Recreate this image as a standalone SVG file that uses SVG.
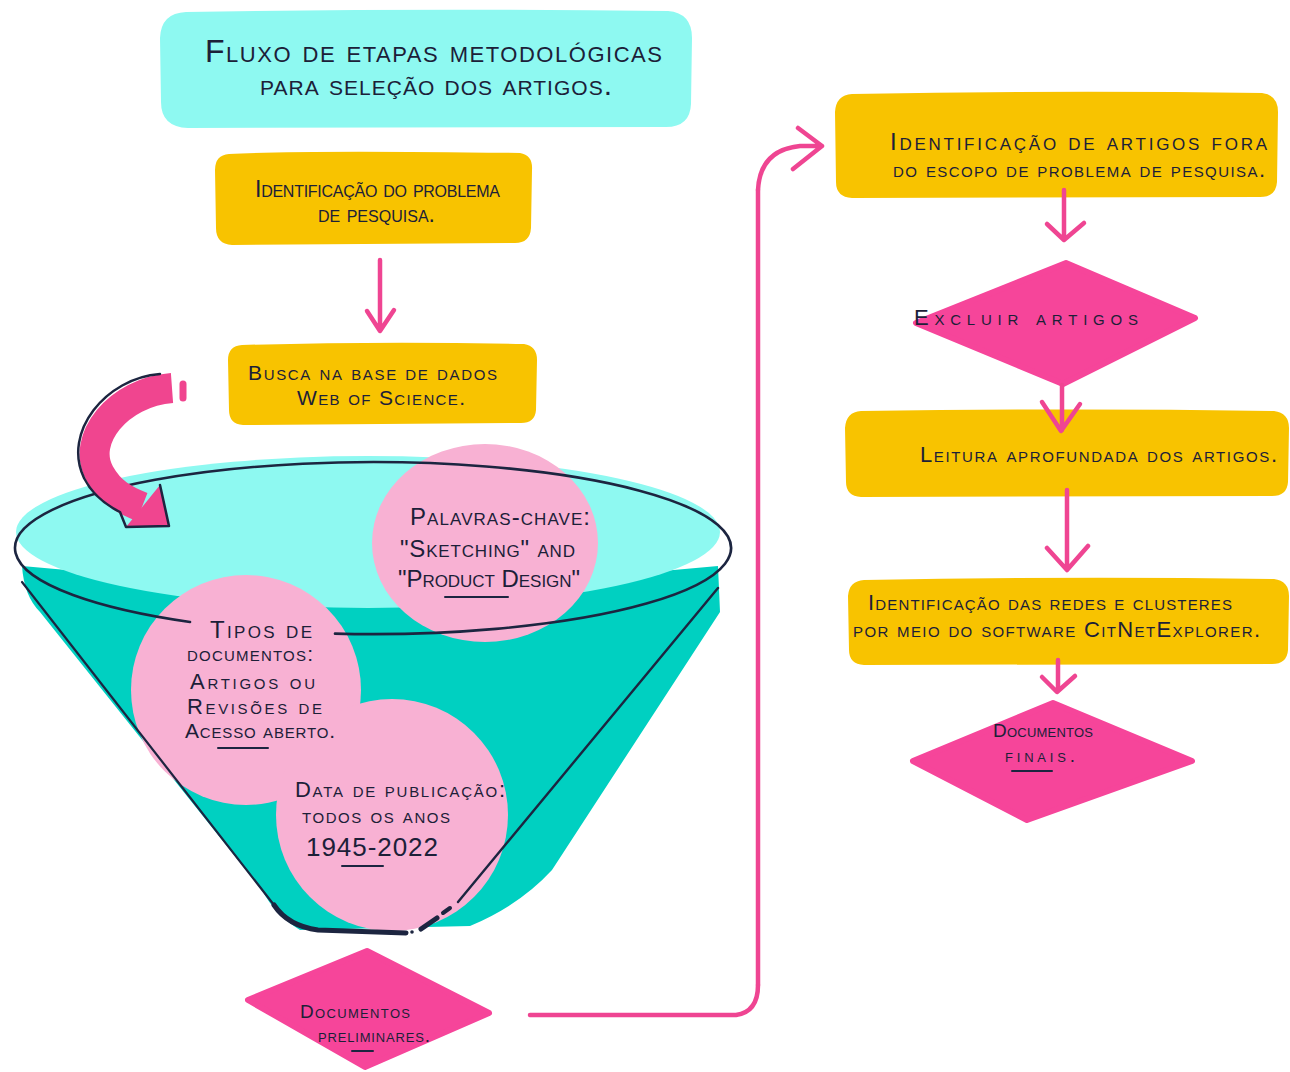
<svg xmlns="http://www.w3.org/2000/svg" width="1290" height="1072" viewBox="0 0 1290 1072">
  <defs>
    <style>
      .t { font-family: "Liberation Sans", Arial, sans-serif; font-variant: small-caps; fill: #1c2038; }
      .ybox { fill: #f8c300; }
      .dia { fill: #f6459a; stroke: #f6459a; stroke-width: 6; stroke-linejoin: round; }
      .arr { fill: none; stroke: #ef4592; stroke-width: 4.5; stroke-linecap: round; stroke-linejoin: round; }
      .ink { fill: none; stroke: #1c2540; stroke-linecap: round; stroke-linejoin: round; }
      .circ { fill: #f8b1d3; }
    </style>
  </defs>

  <rect width="1290" height="1072" fill="#ffffff"/>

  <!-- title -->
  <g id="title">
    <path d="M186,12 Q420,8 668,11 Q692,13 692,38 L691,104 Q690,127 666,127 L188,128 Q161,127 161,102 L160,38 Q161,13 186,12 Z" fill="#8ef9f1"/>
    <text class="t" x="205" y="62" font-size="32" textLength="457">Fluxo de etapas metodológicas</text>
    <text class="t" x="260" y="95" font-size="30" textLength="352">para seleção dos artigos.</text>
  </g>

  <!-- funnel body -->
  <g id="funnel">
    <path d="M22,566 Q370,600 718,566 L720,612 L552,870 Q520,905 470,926 L300,930 Q275,915 262,890 L40,612 Q24,596 22,566 Z" fill="#00d0c1"/>
    <ellipse cx="368" cy="532" rx="352" ry="76" fill="#8ef9f1"/>
  </g>

  <!-- filter circles -->
  <g id="filtro-palavras">
    <ellipse class="circ" cx="485" cy="543" rx="113" ry="99"/>
  </g>
  <g id="filtro-tipos">
    <circle class="circ" cx="246" cy="690" r="115"/>
  </g>
  <g id="filtro-data">
    <circle class="circ" cx="392" cy="815" r="116"/>
  </g>

  <!-- funnel ink outline -->
  <g id="funnel-ink">
    <path class="ink" stroke-width="2.6" d="M190,622 A358,86 0 1,1 335,633.6"/>
    <path class="ink" stroke-width="2.2" d="M22,582 L274,905"/>
    <path class="ink" stroke-width="5" d="M274,905 Q288,926 318,930 L406,933"/>
    <path class="ink" stroke-width="2.4" d="M718,588 L458,902"/>
    <path class="ink" stroke-width="4" d="M450,908 L443,913"/>
    <path class="ink" stroke-width="5" d="M437,918 L421,929"/>
    <circle cx="412" cy="932" r="1.8" fill="#1c2540"/>
  </g>

  <!-- circle texts -->
  <g id="filtro-palavras-texto">
    <text class="t" x="410" y="525" font-size="24" textLength="180">Palavras-chave:</text>
    <text class="t" x="400" y="557" font-size="24" textLength="175">"Sketching" and</text>
    <text class="t" x="398" y="587" font-size="24" textLength="182">"Product Design"</text>
    <path class="ink" stroke-width="2" d="M445,597 L508,597"/>
  </g>
  <g id="filtro-tipos-texto">
    <text class="t" x="210" y="638" font-size="24" textLength="102">Tipos de</text>
    <text class="t" x="187" y="661" font-size="21" textLength="126">documentos:</text>
    <text class="t" x="190" y="689" font-size="22" textLength="125">Artigos ou</text>
    <text class="t" x="187" y="714" font-size="22" textLength="135">Revisões de</text>
    <text class="t" x="185" y="738" font-size="21" textLength="150">Acesso aberto.</text>
    <path class="ink" stroke-width="2" d="M218,748 L268,748"/>
  </g>
  <g id="filtro-data-texto">
    <text class="t" x="295" y="797" font-size="22" textLength="210">Data de publicação:</text>
    <text class="t" x="302" y="823" font-size="22" textLength="148">todos os anos</text>
    <text class="t" x="306" y="856" font-size="26" textLength="132">1945-2022</text>
    <path class="ink" stroke-width="2" d="M342,866 L383,866"/>
  </g>

  <!-- left column boxes -->
  <g id="identificacao-problema">
    <path class="ybox" d="M229,154 Q300,150 520,153 Q533,155 532,170 L531,228 Q530,243 515,243 L232,245 Q216,244 216,228 L215,170 Q215,155 229,154 Z"/>
    <text class="t" x="255" y="197" font-size="23" textLength="245">Identificação do problema</text>
    <text class="t" x="318" y="222" font-size="23" textLength="117">de pesquisa.</text>
  </g>
  <g id="busca-web-of-science">
    <path class="ybox" d="M242,345 Q380,341 524,344 Q537,346 537,360 L536,410 Q535,423 521,423 L243,425 Q229,424 229,410 L228,360 Q228,346 242,345 Z"/>
    <text class="t" x="248" y="380" font-size="21" textLength="249">Busca na base de dados</text>
    <text class="t" x="297" y="405" font-size="21" textLength="168">Web of Science.</text>
  </g>
  <g id="documentos-preliminares">
    <polygon class="dia" points="367,951 248,1000 365,1067 489,1013"/>
    <text class="t" x="300" y="1018" font-size="19" textLength="110">Documentos</text>
    <text class="t" x="318" y="1042" font-size="19" textLength="112">preliminares.</text>
    <path class="ink" stroke-width="2" d="M352,1051 L373,1051"/>
  </g>

  <!-- right column boxes -->
  <g id="identificacao-fora-escopo">
    <path class="ybox" d="M852,94 Q1060,90 1262,93 Q1278,95 1278,112 L1277,182 Q1276,197 1260,197 L852,198 Q836,197 836,182 L835,112 Q836,95 852,94 Z"/>
    <text class="t" x="890" y="150" font-size="24" textLength="377">Identificação de artigos fora</text>
    <text class="t" x="893" y="177" font-size="22" textLength="372">do escopo de problema de pesquisa.</text>
  </g>
  <g id="excluir-artigos">
    <polygon class="dia" points="1066,263 916,323 1063,384 1195,318"/>
    <text class="t" x="914" y="325" font-size="22" textLength="224">Excluir artigos</text>
  </g>
  <g id="leitura-aprofundada">
    <path class="ybox" d="M861,411 Q1070,408 1274,411 Q1289,413 1289,428 L1288,482 Q1287,496 1272,496 L861,497 Q846,496 846,482 L845,428 Q846,412 861,411 Z"/>
    <text class="t" x="920" y="462" font-size="22" textLength="357">Leitura aprofundada dos artigos.</text>
  </g>
  <g id="identificacao-redes">
    <path class="ybox" d="M864,580 Q1070,576 1274,579 Q1289,581 1289,596 L1288,650 Q1287,664 1272,664 L864,665 Q849,664 849,650 L848,596 Q849,581 864,580 Z"/>
    <text class="t" x="868" y="610" font-size="22" textLength="364">Identificação das redes e clusteres</text>
    <text class="t" x="853" y="637" font-size="22" textLength="407">por meio do software CitNetExplorer.</text>
  </g>
  <g id="documentos-finais">
    <polygon class="dia" points="1053,703 913,761 1027,820 1192,761"/>
    <text class="t" x="993" y="737" font-size="19" textLength="100">Documentos</text>
    <text class="t" x="1005" y="762" font-size="19" textLength="70">finais.</text>
    <path class="ink" stroke-width="2" d="M1012,771 L1052,771"/>
  </g>

  <!-- connectors -->
  <g id="connectors">
    <!-- search into the funnel -->
    <path d="M172,388 C118,392 80,440 100,474 C110,492 124,500 142,507" fill="none" stroke="#f0458f" stroke-width="30" stroke-linecap="butt"/>
    <polygon points="160,485 169,526 126,527" fill="#f0458f"/>
    <path class="ink" stroke-width="2.5" d="M160,374 C106,378 62,432 84,478 C92,494 106,505 120,512 L126,527 L169,526 L160,485"/>
    <path d="M183,384 L183,398" stroke="#f0458f" stroke-width="7" stroke-linecap="round"/>

    <path class="arr" d="M380,260 L380,330 M367,311 L380,331 L394,310"/>

    <!-- preliminary documents to screening -->
    <path class="arr" stroke-width="5" d="M530,1015 L736,1015 Q758,1012 758,985"/>
    <path class="arr" stroke-width="3.5" d="M758,985 L758,190"/>
    <path class="arr" stroke-width="7" d="M758,190 Q760,150 800,146 L822,146 M798,128 L822,146 L793,169"/>

    <path class="arr" d="M1064,190 L1064,238 M1047,224 L1064,240 L1084,223"/>
    <path class="arr" d="M1062,385 L1062,430 M1042,402 L1061,431 L1080,404"/>
    <path class="arr" d="M1067,490 L1067,568 M1047,548 L1067,570 L1088,546"/>
    <path class="arr" d="M1058,660 L1058,690 M1042,677 L1057,692 L1075,676"/>
  </g>
</svg>
